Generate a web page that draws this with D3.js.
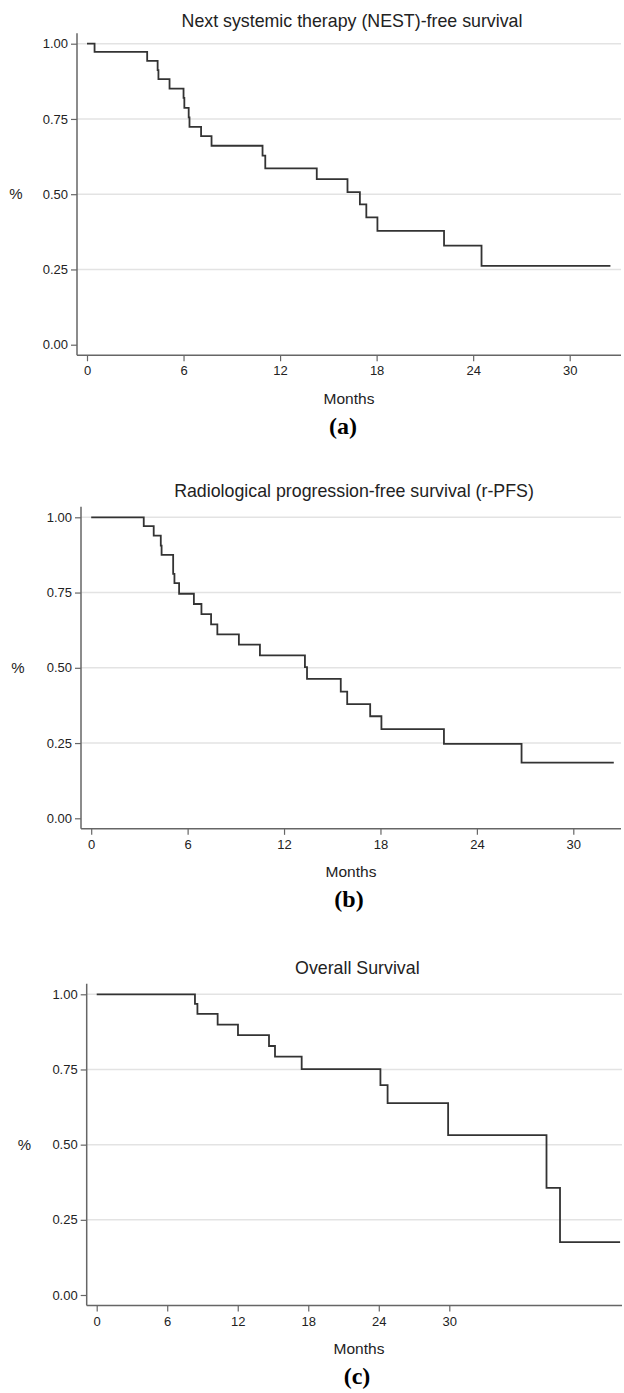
<!DOCTYPE html>
<html>
<head>
<meta charset="utf-8">
<script src="https://cdn.jsdelivr.net/npm/d3@7"></script>
<style>
  body { margin: 0; background: #fff; }
  svg { display: block; }
</style>
</head>
<body>
<div id="chart"></div>
<script>
// Kaplan-Meier step data (time in months, survival after each drop)
const nestTimes = [0, 0.47, 3.74, 4.39, 4.44, 5.13, 6.0, 6.05, 6.32, 6.37, 7.09, 7.74, 10.91, 11.08, 14.28, 16.19, 16.96, 17.36, 18.05, 22.19, 24.52];
const nestSurv  = [1.0, 0.973, 0.943, 0.912, 0.882, 0.851, 0.82, 0.787, 0.755, 0.724, 0.693, 0.661, 0.628, 0.586, 0.550, 0.507, 0.466, 0.423, 0.378, 0.329, 0.262];
const nestEnd = 32.53;

const rpfsTimes = [0, 3.27, 3.89, 4.33, 4.38, 5.10, 5.18, 5.47, 6.39, 6.86, 7.46, 7.85, 9.19, 10.50, 13.30, 13.43, 15.53, 15.93, 17.36, 18.06, 21.95, 26.78];
const rpfsSurv  = [1.0, 0.971, 0.939, 0.906, 0.875, 0.812, 0.781, 0.746, 0.712, 0.678, 0.644, 0.611, 0.577, 0.541, 0.502, 0.463, 0.421, 0.379, 0.339, 0.296, 0.247, 0.185];
const rpfsEnd = 32.52;

const osTimes = [0, 8.36, 8.57, 10.29, 12.02, 14.66, 15.17, 17.44, 24.14, 24.75, 29.9, 38.27, 39.42];
const osSurv  = [1.0, 0.968, 0.935, 0.899, 0.864, 0.828, 0.793, 0.751, 0.698, 0.638, 0.532, 0.356, 0.176];
const osEnd = 44.53;

const xTicks = [0, 6, 12, 18, 24, 30];
const yTicks = [0, 0.25, 0.5, 0.75, 1];

const titles = ["Next systemic therapy (NEST)-free survival",
                "Radiological progression-free survival (r-PFS)",
                "Overall Survival"];
const letters = ["(a)", "(b)", "(c)"];

// pixel layout of each panel
const panels = [
  {times : nestTimes, surv : nestSurv, end : nestEnd, left : 77, x0 : 87, x30 : 569.7, right : 621,
   y1 : 43.7, y0 : 344.7, titleY : 21, pctX : 16, labelX : 349, letterX : 343},
  {times : rpfsTimes, surv : rpfsSurv, end : rpfsEnd, left : 81, x0 : 91.2, x30 : 573.3, right : 621,
   y1 : 517.3, y0 : 818.3, titleY : 490.7, pctX : 18, labelX : 351, letterX : 349},
  {times : osTimes, surv : osSurv, end : osEnd, left : 86.7, x0 : 96.7, x30 : 449.3, right : 622,
   y1 : 994.3, y0 : 1295, titleY : 967.7, pctX : 24.5, labelX : 359, letterX : 357}
];

const width = 624;
const height = 1393;
const font = "'Liberation Sans', Arial, sans-serif";

const svg = d3.select("#chart").append("svg")
                .attr("width", width)
                .attr("height", height);

panels.forEach((p, i) => {
  const x = d3.scaleLinear().domain([ 0, 30 ]).range([ p.x0, p.x30 ]);
  const y = d3.scaleLinear().domain([ 0, 1 ]).range([ p.y0, p.y1 ]);
  const g = svg.append("g");
  const axisY = y(-0.035);
  const topY = y(1.035);

  // gridlines
  g.selectAll("line.grid")
      .data(yTicks.slice(1))
      .join("line")
      .attr("x1", p.left)
      .attr("x2", p.right)
      .attr("y1", d => y(d))
      .attr("y2", d => y(d))
      .attr("stroke", "#e3e3e3")
      .attr("stroke-width", 1.5);

  // y axis
  const ya = g.append("g")
                 .attr("transform", `translate(${p.left},0)`)
                 .call(d3.axisLeft(y).tickValues(yTicks).tickFormat(d3.format(".2f")).tickSize(6).tickPadding(3));
  ya.select(".domain").remove();
  ya.append("line")
      .attr("x1", 0).attr("x2", 0)
      .attr("y1", topY).attr("y2", axisY)
      .attr("stroke", "#666").attr("stroke-width", 1.5);

  // x axis
  const xa = g.append("g")
                 .attr("transform", `translate(0,${axisY})`)
                 .call(d3.axisBottom(x).tickValues(xTicks).tickSize(6).tickPadding(5));
  xa.select(".domain").remove();
  xa.append("line")
      .attr("x1", p.left).attr("x2", p.right)
      .attr("y1", 0).attr("y2", 0)
      .attr("stroke", "#666").attr("stroke-width", 1.5);

  g.selectAll(".tick line").attr("stroke", "#666").attr("stroke-width", 1.2);
  g.selectAll(".tick text")
      .attr("fill", "#222")
      .style("font-family", font)
      .style("font-size", "13px");

  // survival step curve
  const pts = p.times.map((t, j) => [ t, p.surv[j] ]);
  pts.push([ p.end, p.surv[p.surv.length - 1] ]);
  const line = d3.line()
                   .x(d => x(d[0]))
                   .y(d => y(d[1]))
                   .curve(d3.curveStepAfter);
  g.append("path")
      .attr("d", line(pts))
      .attr("fill", "none")
      .attr("stroke", "#333")
      .attr("stroke-width", 1.8);

  // texts
  g.append("text")
      .attr("x", (p.left + p.right) / 2 + 3)
      .attr("y", p.titleY)
      .attr("dy", "0.35em")
      .attr("text-anchor", "middle")
      .attr("fill", "#222")
      .style("font-family", font)
      .style("font-size", "17.8px")
      .text(titles[i]);

  g.append("text")
      .attr("x", p.pctX)
      .attr("y", y(0.5))
      .attr("dy", "0.35em")
      .attr("text-anchor", "middle")
      .attr("fill", "#222")
      .style("font-family", font)
      .style("font-size", "15px")
      .text("%");

  g.append("text")
      .attr("x", p.labelX)
      .attr("y", axisY + 43)
      .attr("dy", "0.35em")
      .attr("text-anchor", "middle")
      .attr("fill", "#222")
      .style("font-family", font)
      .style("font-size", "15.5px")
      .text("Months");

  g.append("text")
      .attr("x", p.letterX)
      .attr("y", axisY + 70)
      .attr("dy", "0.35em")
      .attr("text-anchor", "middle")
      .attr("fill", "#000")
      .style("font-family", "'Liberation Serif', 'Times New Roman', serif")
      .style("font-weight", "bold")
      .style("font-size", "24px")
      .text(letters[i]);
});
</script>
</body>
</html>
